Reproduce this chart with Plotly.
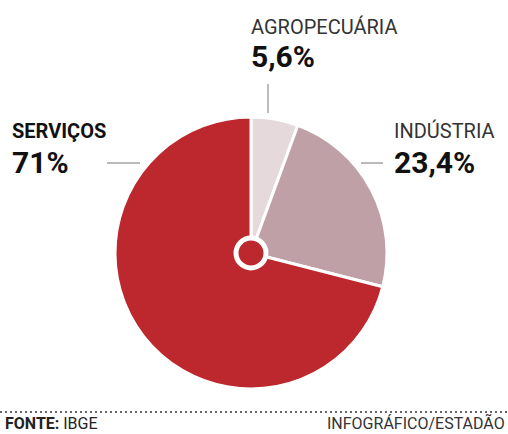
import plotly.graph_objects as go

categories = ["AGROPECUÁRIA", "INDÚSTRIA", "SERVIÇOS"]
values = [5.6, 23.4, 71.0]
value_labels = ["5,6%", "23,4%", "71%"]
colors = ["#E6D9DC", "#BFA0A6", "#BC282D"]

W, H = 508, 434
cx, cy, r = 251, 253, 136

fig = go.Figure()
fig.add_trace(go.Pie(
    labels=categories, values=values, sort=False, direction="clockwise", rotation=0,
    marker=dict(colors=colors, line=dict(color="white", width=3)),
    textinfo="none", hoverinfo="label+percent", showlegend=False,
    domain=dict(x=[(cx - r) / W, (cx + r) / W], y=[(H - cy - r) / H, (H - cy + r) / H]),
))

def px(x):
    return x / W

def py(y):
    return 1 - y / H

# central ring
rr = 15
fig.add_shape(type="circle", xref="paper", yref="paper",
              x0=px(cx - rr), x1=px(cx + rr), y0=py(cy + rr), y1=py(cy - rr),
              fillcolor=colors[2], line=dict(color="white", width=5))

# leader lines
line_style = dict(color="#777", width=1)
fig.add_shape(type="line", xref="paper", yref="paper", x0=px(268), x1=px(268), y0=py(84), y1=py(113), line=line_style)
fig.add_shape(type="line", xref="paper", yref="paper", x0=px(107), x1=px(140), y0=py(163), y1=py(163), line=line_style)
fig.add_shape(type="line", xref="paper", yref="paper", x0=px(361), x1=px(383), y0=py(163), y1=py(163), line=line_style)

FONT = "Roboto, Arial, sans-serif"
anns = [
    (249, 27, categories[0], 20, "#333", False),
    (249, 56, value_labels[0], 30, "#111", True),
    (392, 131, categories[1], 20, "#333", False),
    (392, 162, value_labels[1], 30, "#111", True),
    (10, 131, categories[2], 20, "#111", True),
    (10, 162, value_labels[2], 30, "#111", True),
]
for x, y, t, s, c, b in anns:
    fig.add_annotation(x=px(x), y=py(y), xref="paper", yref="paper", xanchor="left", yanchor="middle",
                       text=f"<b>{t}</b>" if b else t, showarrow=False,
                       font=dict(family=FONT, size=s, color=c))

# footer
fig.add_shape(type="line", xref="paper", yref="paper", x0=0, x1=1, y0=py(412), y1=py(412),
              line=dict(color="#666", width=2, dash="2px,3px"))
fig.add_annotation(x=px(4), y=0, xref="paper", yref="paper", xanchor="left", yanchor="bottom",
                   text="<b>FONTE:</b> IBGE", showarrow=False, borderpad=0,
                   font=dict(family=FONT, size=16, color="#222"))
fig.add_annotation(x=px(506), y=0, xref="paper", yref="paper", xanchor="right", yanchor="bottom",
                   text="INFOGRÁFICO/ESTADÃO", showarrow=False, borderpad=0,
                   font=dict(family=FONT, size=16, color="#333"))

fig.update_layout(width=W, height=H, margin=dict(l=0, r=0, t=0, b=0),
                  paper_bgcolor="white", plot_bgcolor="white")
fig.write_html("out.html")
